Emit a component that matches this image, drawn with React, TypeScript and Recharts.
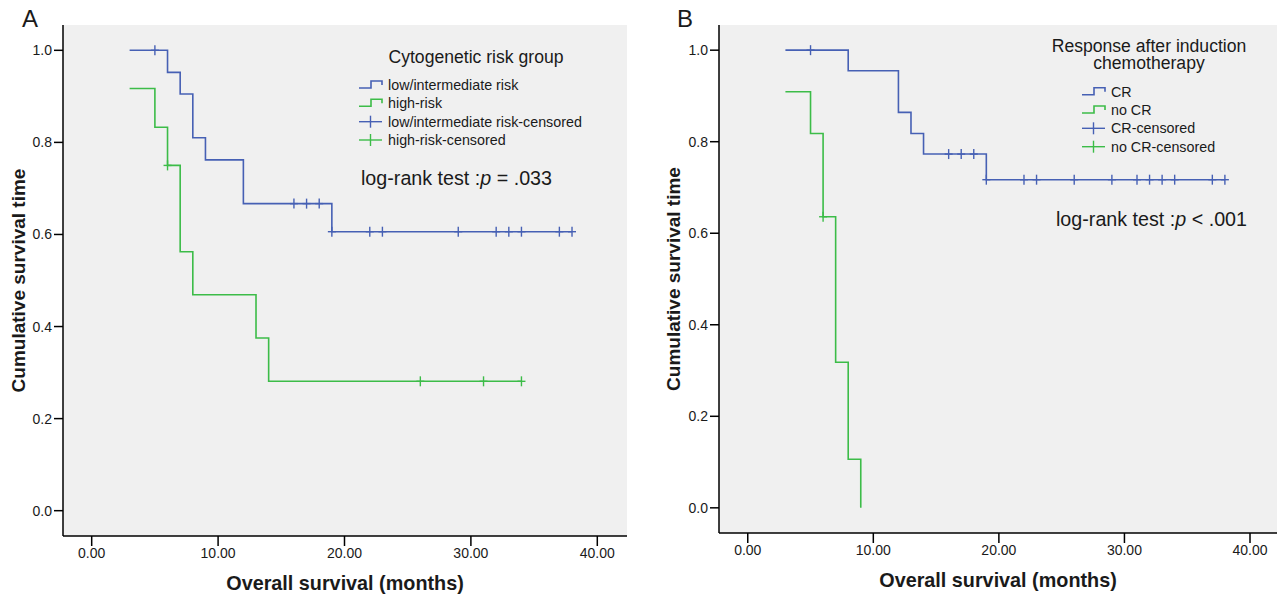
import { ComposedChart, Line, Scatter, XAxis, YAxis, CartesianGrid, Legend, Label } from 'recharts';

const FONT = '"Liberation Sans", Arial, Helvetica, sans-serif';
const BLUE = '#4660b4';
const GREEN = '#3cbc48';
const PANEL_BG = '#f0f0f0';
const INK = '#1a1a1a';

// Panel A - cytogenetic risk group
const lowRiskTimes = [3, 6, 7, 8, 9, 12, 19, 38];
const lowRiskSurv = [1.0, 0.952, 0.905, 0.81, 0.762, 0.667, 0.606, 0.606];
const lowRiskCensTimes = [5, 16, 17, 18, 19, 22, 23, 29, 32, 33, 34, 37, 38];
const lowRiskCensSurv = [1.0, 0.667, 0.667, 0.667, 0.606, 0.606, 0.606, 0.606, 0.606, 0.606, 0.606, 0.606, 0.606];
const highRiskTimes = [3, 5, 6, 7, 8, 13, 14, 34];
const highRiskSurv = [0.917, 0.833, 0.75, 0.5625, 0.469, 0.375, 0.281, 0.281];
const highRiskCensTimes = [6, 26, 31, 34];
const highRiskCensSurv = [0.75, 0.281, 0.281, 0.281];

// Panel B - response after induction chemotherapy
const crTimes = [3, 8, 12, 13, 14, 19, 38];
const crSurv = [1.0, 0.955, 0.864, 0.818, 0.773, 0.717, 0.717];
const crCensTimes = [5, 16, 17, 18, 19, 22, 23, 26, 29, 31, 32, 33, 34, 37, 38];
const crCensSurv = [1.0, 0.773, 0.773, 0.773, 0.717, 0.717, 0.717, 0.717, 0.717, 0.717, 0.717, 0.717, 0.717, 0.717, 0.717];
const noCrTimes = [3, 5, 6, 7, 8, 9];
const noCrSurv = [0.909, 0.818, 0.636, 0.318, 0.106, 0];
const noCrCensTimes = [6];
const noCrCensSurv = [0.636];

const xTicks = [0, 10, 20, 30, 40];
const yTicks = [0, 0.2, 0.4, 0.6, 0.8, 1.0];

const zip = (t: number[], s: number[]) => t.map((v, i) => ({ t: v, s: s[i] }));

const censorMark = (color: string) => (props: any) => {
  const { cx, cy } = props;
  return (
    <g>
      <line x1={cx - 4} x2={cx + 4} y1={cy} y2={cy} stroke={color} strokeWidth={1.4} />
      <line x1={cx} x2={cx} y1={cy - 5} y2={cy + 5} stroke={color} strokeWidth={1.4} />
    </g>
  );
};

const StepIcon = ({ x, y, color }: any) => (
  <path
    d={`M${x},${y + 3} H${x + 12} V${y - 4} H${x + 23} V${y}`}
    fill="none"
    stroke={color}
    strokeWidth={1.6}
  />
);

const CensorIcon = ({ x, y, color }: any) => (
  <g stroke={color} strokeWidth={1.4}>
    <line x1={x} x2={x + 23} y1={y} y2={y} />
    <line x1={x + 11.5} x2={x + 11.5} y1={y - 6} y2={y + 6} />
  </g>
);

interface LegendCfg {
  title: string[];
  titleX: number;
  titleY: number;
  names: string[];
  iconX: number;
  itemY: number[];
  pX: number;
  pY: number;
  pText: string;
}

const KMLegend = ({ cfg, w, h }: { cfg: LegendCfg; w: number; h: number }) => {
  const colors = [BLUE, GREEN, BLUE, GREEN];
  return (
    <svg width={w} height={h} style={{ display: 'block', fontFamily: FONT }}>
      {cfg.title.map((line, i) => (
        <text key={line} x={cfg.titleX} y={cfg.titleY + i * 17.6} textAnchor="middle" dominantBaseline="central" fontSize={17.6} fill={INK}>
          {line}
        </text>
      ))}
      {cfg.names.map((name, i) => (
        <g key={name}>
          {i < 2 ? (
            <StepIcon x={cfg.iconX} y={cfg.itemY[i]} color={colors[i]} />
          ) : (
            <CensorIcon x={cfg.iconX} y={cfg.itemY[i]} color={colors[i]} />
          )}
          <text x={cfg.iconX + 29} y={cfg.itemY[i]} dominantBaseline="central" fontSize={14.3} fill={INK}>
            {name}
          </text>
        </g>
      ))}
      <text x={cfg.pX} y={cfg.pY} dominantBaseline="central" fontSize={19.7} fill={INK}>
        log-rank test :<tspan fontStyle="italic">p</tspan>
        {` ${cfg.pText}`}
      </text>
    </svg>
  );
};

interface PanelProps {
  width: number;
  height: number;
  yAxisWidth: number;
  xAxisHeight: number;
  marginRight: number;
  xDomain: [number, number];
  steps: { t: number; s: number }[][];
  censored: { t: number; s: number }[][];
  legend: LegendCfg;
}

const KMPanel = ({ width, height, yAxisWidth, xAxisHeight, marginRight, xDomain, steps, censored, legend }: PanelProps) => {
  const colors = [BLUE, GREEN];
  const axisStroke = { stroke: '#000', strokeWidth: 1.5 };
  const tickStyle = { fill: INK, fontSize: 14, fontFamily: FONT };
  return (
    <ComposedChart width={width} height={height} margin={{ top: 25, right: marginRight, bottom: 0, left: 0 }}>
      <CartesianGrid fill={PANEL_BG} horizontal={false} vertical={false} />
      <XAxis
        dataKey="t"
        type="number"
        domain={xDomain}
        allowDataOverflow
        ticks={xTicks}
        tickFormatter={(v: number) => v.toFixed(2)}
        height={xAxisHeight}
        tickSize={10}
        tick={tickStyle}
        axisLine={axisStroke}
        tickLine={axisStroke}
      >
        <Label
          content={(p: any) => (
            <text
              x={p.viewBox.x + p.viewBox.width / 2}
              y={p.viewBox.y + 47}
              textAnchor="middle"
              dominantBaseline="central"
              fontSize={19.8}
              fontWeight="bold"
              fontFamily={FONT}
              fill={INK}
            >
              Overall survival (months)
            </text>
          )}
        />
      </XAxis>
      <XAxis xAxisId="top" orientation="top" type="number" domain={xDomain} allowDataOverflow height={0} tick={false} tickLine={false} axisLine={{ stroke: '#222', strokeWidth: 1.5 }} />
      <YAxis
        dataKey="s"
        type="number"
        domain={[-0.055, 1.055]}
        allowDataOverflow
        ticks={yTicks}
        tickFormatter={(v: number) => v.toFixed(1)}
        width={yAxisWidth}
        tickSize={9}
        tick={tickStyle}
        axisLine={axisStroke}
        tickLine={axisStroke}
      >
        <Label
          content={(p: any) => {
            const cx = p.viewBox.x + 18;
            const cy = p.viewBox.y + p.viewBox.height / 2;
            return (
              <text
                x={cx}
                y={cy}
                transform={`rotate(-90, ${cx}, ${cy})`}
                textAnchor="middle"
                dominantBaseline="central"
                fontSize={19}
                fontWeight="bold"
                fontFamily={FONT}
                fill={INK}
              >
                Cumulative survival time
              </text>
            );
          }}
        />
      </YAxis>
      <YAxis yAxisId="right" orientation="right" type="number" domain={[-0.055, 1.055]} allowDataOverflow width={0} tick={false} tickLine={false} axisLine={{ stroke: '#444', strokeWidth: 1.5 }} />
      {steps.map((d, i) => (
        <Line
          key={`step-${i}`}
          data={d}
          dataKey="s"
          type="stepAfter"
          stroke={colors[i]}
          strokeWidth={1.6}
          dot={false}
          activeDot={false}
          legendType="none"
          isAnimationActive={false}
        />
      ))}
      {censored.map((d, i) => (
        <Scatter key={`cens-${i}`} data={d} dataKey="s" shape={censorMark(colors[i])} legendType="none" isAnimationActive={false} />
      ))}
      <Legend
        layout="horizontal"
        verticalAlign="middle"
        align="center"
        wrapperStyle={{ left: 0, top: 0, width, height, pointerEvents: 'none' }}
        content={() => <KMLegend cfg={legend} w={width} h={height} />}
      />
    </ComposedChart>
  );
};

const legendA: LegendCfg = {
  title: ['Cytogenetic risk group'],
  titleX: 476,
  titleY: 57,
  names: ['low/intermediate risk', 'high-risk', 'low/intermediate risk-censored', 'high-risk-censored'],
  iconX: 359,
  itemY: [85, 103.3, 121.7, 140],
  pX: 361,
  pY: 178,
  pText: '= .033',
};

const legendB: LegendCfg = {
  title: ['Response after induction', 'chemotherapy'],
  titleX: 494,
  titleY: 45.7,
  names: ['CR', 'no CR', 'CR-censored', 'no CR-censored'],
  iconX: 427,
  itemY: [91.7, 110, 128.3, 146.7],
  pX: 401,
  pY: 219,
  pText: '< .001',
};

export default function App() {
  return (
    <div style={{ position: 'absolute', left: 0, top: 0, width: 1283, height: 598, background: '#fff', fontFamily: FONT }}>
      <div style={{ position: 'absolute', left: 0, top: 0 }}>
        <KMPanel
          width={650}
          height={598}
          yAxisWidth={63}
          xAxisHeight={62}
          marginRight={23}
          xDomain={[-2.27, 42.35]}
          steps={[zip(lowRiskTimes, lowRiskSurv), zip(highRiskTimes, highRiskSurv)]}
          censored={[zip(lowRiskCensTimes, lowRiskCensSurv), zip(highRiskCensTimes, highRiskCensSurv)]}
          legend={legendA}
        />
      </div>
      <div style={{ position: 'absolute', left: 655, top: 0 }}>
        <KMPanel
          width={628}
          height={598}
          yAxisWidth={64}
          xAxisHeight={65}
          marginRight={6}
          xDomain={[-2.29, 42.15]}
          steps={[zip(crTimes, crSurv), zip(noCrTimes, noCrSurv)]}
          censored={[zip(crCensTimes, crCensSurv), zip(noCrCensTimes, noCrCensSurv)]}
          legend={legendB}
        />
      </div>
      <svg width={1283} height={40} style={{ position: 'absolute', left: 0, top: 0, pointerEvents: 'none' }}>
        <text x={22} y={27} fontSize={24} fontFamily={FONT} fill={INK}>A</text>
        <text x={677} y={27} fontSize={24} fontFamily={FONT} fill={INK}>B</text>
      </svg>
    </div>
  );
}
